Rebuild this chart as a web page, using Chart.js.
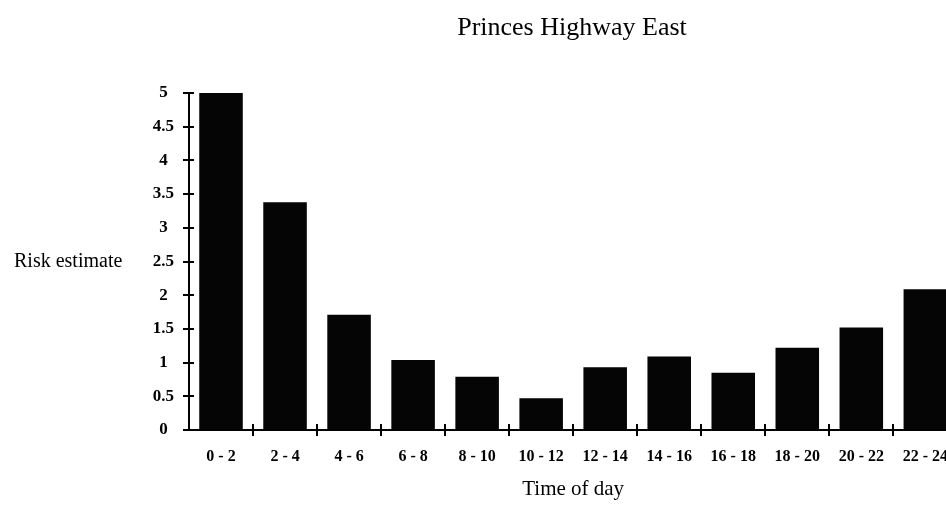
<!DOCTYPE html>
<html>
<head>
<meta charset="utf-8">
<script src="https://cdn.jsdelivr.net/npm/chart.js@4"></script>
<style>
    html, body { margin: 0; padding: 0; background: #fff; overflow: hidden; }
    canvas { display: block; }
</style>
</head>
<body>
<canvas id="riskChart" width="965" height="505"></canvas>
<script>
// Data
const timeLabels = ['0 - 2', '2 - 4', '4 - 6', '6 - 8', '8 - 10', '10 - 12',
    '12 - 14', '14 - 16', '16 - 18', '18 - 20', '20 - 22', '22 - 24'];
const riskValues = [5.0, 3.38, 1.71, 1.04, 0.79, 0.47, 0.93, 1.09, 0.85, 1.22, 1.52, 2.09];
const yTicks = [0, 0.5, 1, 1.5, 2, 2.5, 3, 3.5, 4, 4.5, 5];

const chartTitle = 'Princes Highway East';
const yTitle = 'Risk estimate';
const xTitle = 'Time of day';

const serif = "'Liberation Serif', 'Times New Roman', serif";

// Title, horizontal y label and the cross-shaped tick marks
const decorations = {
    id: 'decorations',
    afterDraw(chart) {
        const ctx = chart.ctx;
        const area = chart.chartArea;
        const x = chart.scales.x;
        const y = chart.scales.y;
        ctx.save();
        ctx.fillStyle = '#000';
        ctx.font = '26px ' + serif;
        ctx.textAlign = 'center';
        ctx.textBaseline = 'middle';
        ctx.fillText(chartTitle, 572, 28);
        ctx.font = '20px ' + serif;
        ctx.textAlign = 'left';
        ctx.fillText(yTitle, 14, 262);

        ctx.strokeStyle = '#000';
        ctx.lineWidth = 2;
        ctx.beginPath();
        yTicks.forEach(v => {
            const py = Math.round(y.getPixelForValue(v));
            ctx.moveTo(area.left - 6, py);
            ctx.lineTo(area.left + 5, py);
        });
        for (let i = 1; i < timeLabels.length; i++) {
            const px = Math.round((x.getPixelForValue(i - 1) + x.getPixelForValue(i)) / 2);
            ctx.moveTo(px, area.bottom - 6);
            ctx.lineTo(px, area.bottom + 6);
        }
        ctx.stroke();
        ctx.restore();
    }
};

const ctx = document.getElementById('riskChart').getContext('2d');
new Chart(ctx, {
    type: 'bar',
    data: {
        labels: timeLabels,
        datasets: [{
            label: yTitle,
            data: riskValues,
            backgroundColor: '#050505',
            borderWidth: 0,
            barPercentage: 0.68,
            categoryPercentage: 1.0
        }]
    },
    options: {
        responsive: false,
        animation: false,
        layout: { padding: { top: 93, right: 0, left: 0, bottom: 0 } },
        plugins: {
            legend: { display: false },
            title: { display: false },
            tooltip: { enabled: false }
        },
        scales: {
            x: {
                grid: { display: true, drawOnChartArea: false, drawTicks: false },
                border: { display: true, color: '#000', width: 2 },
                ticks: {
                    color: '#000',
                    font: { family: serif, size: 16, weight: 'bold' },
                    padding: 17,
                    maxRotation: 0,
                    autoSkip: false
                },
                title: {
                    display: true,
                    text: xTitle,
                    color: '#000',
                    font: { family: serif, size: 21 },
                    padding: { top: 0, bottom: 3 }
                },
                afterFit(scale) { scale.height = 75; }
            },
            y: {
                min: 0,
                max: 5,
                grid: { display: true, drawOnChartArea: false, drawTicks: false },
                border: { display: true, color: '#000', width: 2 },
                ticks: {
                    stepSize: 0.5,
                    color: '#000',
                    font: { family: serif, size: 17, weight: 'bold' },
                    padding: 15,
                    crossAlign: 'center',
                    callback: value => String(value)
                },
                afterFit(scale) { scale.width = 189; }
            }
        }
    },
    plugins: [decorations]
});
</script>
</body>
</html>
